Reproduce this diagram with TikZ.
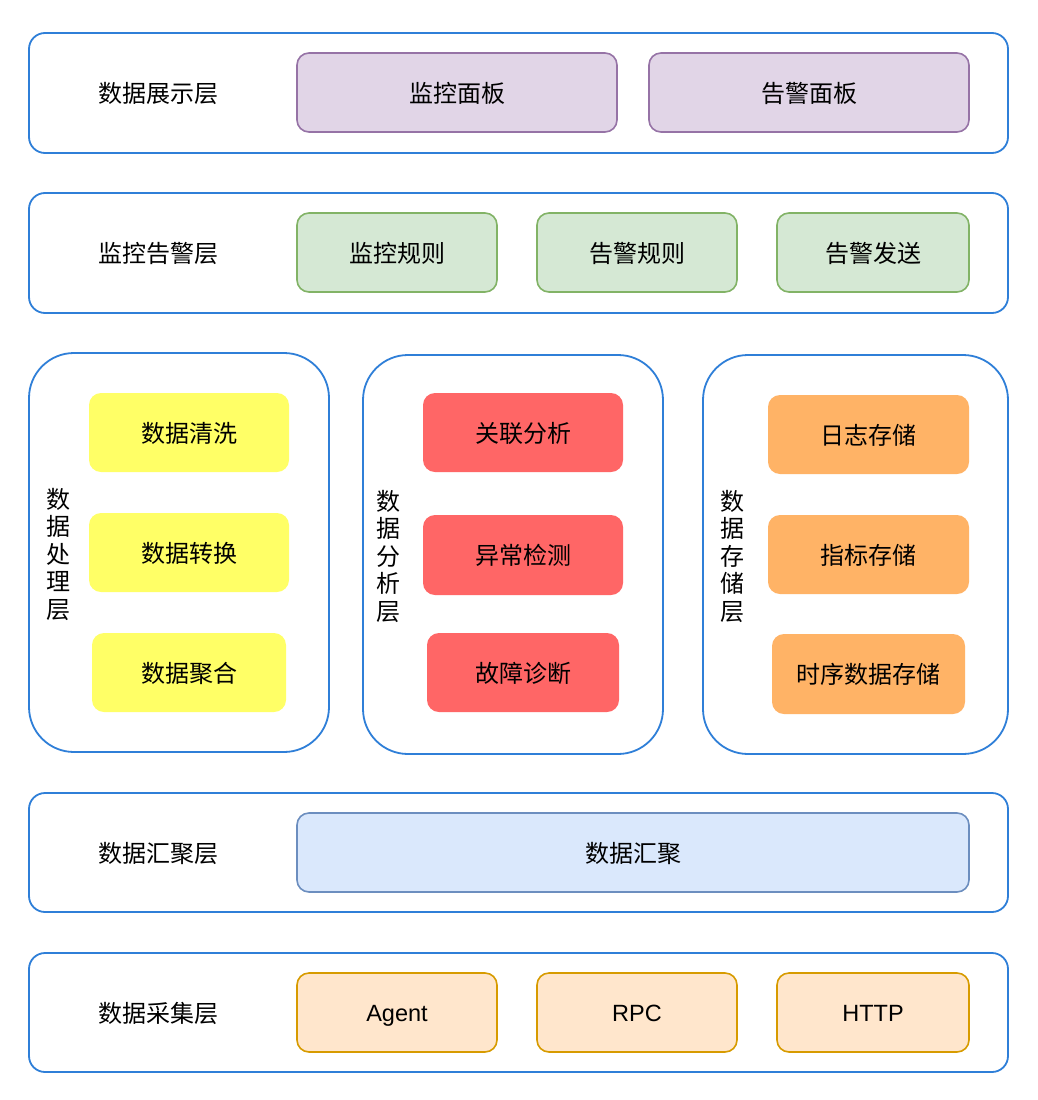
\documentclass[tikz,border=0pt]{standalone}
\usepackage{fontspec}
\setmainfont{Noto Sans CJK SC}
\newfontfamily\latinfont{Liberation Sans}
\definecolor{cont}{HTML}{2F7FD8}
\definecolor{purF}{HTML}{E1D5E7}\definecolor{purD}{HTML}{9673A6}
\definecolor{grnF}{HTML}{D5E8D4}\definecolor{grnD}{HTML}{82B366}
\definecolor{yelF}{HTML}{FFFF66}
\definecolor{redF}{HTML}{FF6666}
\definecolor{orgF}{HTML}{FFB366}
\definecolor{bluF}{HTML}{DAE8FC}\definecolor{bluD}{HTML}{6C8EBF}
\definecolor{pchF}{HTML}{FFE6CC}\definecolor{pchD}{HTML}{D79B00}
\tikzset{
  layer/.style={draw=cont, line width=1.8pt, rounded corners=16pt},
  biglayer/.style={draw=cont, line width=1.8pt, rounded corners=45pt},
  item/.style={rounded corners=12pt, line width=1.6pt},
  txt/.style={font=\fontsize{24}{28}\selectfont, text=black, inner sep=0pt, text height=20pt, text depth=2pt},
  ltxt/.style={font=\latinfont\fontsize{23.5}{28}\selectfont, text=black, inner sep=0pt, text height=17pt, text depth=0pt},
  vtxt/.style={font=\fontsize{24}{27.5}\selectfont, text=black, inner sep=0pt, align=center},
}
\begin{document}
\begin{tikzpicture}[x=1pt,y=-1pt]
\useasboundingbox[fill=white] (0,0) rectangle (1038,1100);
% Row 1
\draw[layer] (29,33) rectangle (1008,153);
\node[txt] (l1) at (158,93) {数据展示层};
\draw[item,fill=purF,draw=purD] (297,53) rectangle (617,132);
\node[txt] (p1) at (457,93) {监控面板};
\draw[item,fill=purF,draw=purD] (649,53) rectangle (969,132);
\node[txt] (p2) at (809,93) {告警面板};
% Row 2
\draw[layer] (29,193) rectangle (1008,313);
\node[txt] (l2) at (158,253) {监控告警层};
\draw[item,fill=grnF,draw=grnD] (297,213) rectangle (497,292);
\node[txt] (g1) at (397,253) {监控规则};
\draw[item,fill=grnF,draw=grnD] (537,213) rectangle (737,292);
\node[txt] (g2) at (637,253) {告警规则};
\draw[item,fill=grnF,draw=grnD] (777,213) rectangle (969,292);
\node[txt] (g3) at (873,253) {告警发送};
% Row 3 left
\draw[biglayer] (29,353) rectangle (329,752);
\node[vtxt] (l3) at (58,554) {数\\据\\处\\理\\层};
\fill[item,yelF] (89,393) rectangle (289,472);
\node[txt] (y1) at (189,433) {数据清洗};
\fill[item,yelF] (89,513) rectangle (289,592);
\node[txt] (y2) at (189,553) {数据转换};
\fill[item,yelF] (92,633) rectangle (286,712);
\node[txt] (y3) at (189,673) {数据聚合};
% Row 3 middle
\draw[biglayer] (363,355) rectangle (663,754);
\node[vtxt] (l4) at (388,556) {数\\据\\分\\析\\层};
\fill[item,redF] (423,393) rectangle (623,472);
\node[txt] (r1) at (523,433) {关联分析};
\fill[item,redF] (423,515) rectangle (623,595);
\node[txt] (r2) at (523,555) {异常检测};
\fill[item,redF] (427,633) rectangle (619,712);
\node[txt] (r3) at (523,673) {故障诊断};
% Row 3 right
\draw[biglayer] (703,355) rectangle (1008,754);
\node[vtxt] (l5) at (732,556) {数\\据\\存\\储\\层};
\fill[item,orgF] (768,395) rectangle (969,474);
\node[txt] (o1) at (868,435) {日志存储};
\fill[item,orgF] (768,515) rectangle (969,594);
\node[txt] (o2) at (868,555) {指标存储};
\fill[item,orgF] (772,634) rectangle (965,714);
\node[txt] (o3) at (868,674) {时序数据存储};
% Row 4
\draw[layer] (29,793) rectangle (1008,912);
\node[txt] (l6) at (158,853) {数据汇聚层};
\draw[item,fill=bluF,draw=bluD] (297,813) rectangle (969,892);
\node[txt] (b1) at (633,853) {数据汇聚};
% Row 5
\draw[layer] (29,953) rectangle (1008,1072);
\node[txt] (l7) at (158,1013) {数据采集层};
\draw[item,fill=pchF,draw=pchD] (297,973) rectangle (497,1052);
\node[ltxt] (c1) at (397,1013) {Agent};
\draw[item,fill=pchF,draw=pchD] (537,973) rectangle (737,1052);
\node[ltxt] (c2) at (637,1013) {RPC};
\draw[item,fill=pchF,draw=pchD] (777,973) rectangle (969,1052);
\node[ltxt] (c3) at (873,1013) {HTTP};
\end{tikzpicture}
\end{document}
